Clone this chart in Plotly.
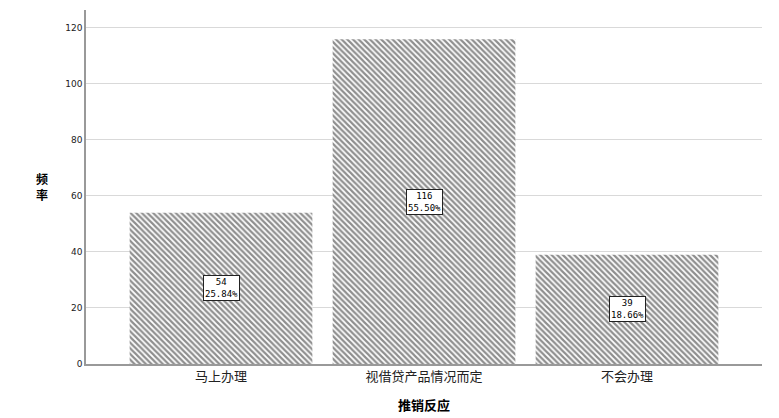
import plotly.graph_objects as go

# values
categories = ["马上办理", "视借贷产品情况而定", "不会办理"]
counts = [54, 116, 39]
percents = ["25.84%", "55.50%", "18.66%"]
y_ticks = [0, 20, 40, 60, 80, 100, 120]
y_title_chars = ["频", "率"]

cjk = "Noto Sans CJK SC"
mono = "DejaVu Sans Mono"

fig = go.Figure()

fig.add_trace(go.Bar(
    x=list(range(len(categories))),
    y=counts,
    width=0.9,
    marker=dict(
        color="white",
        line=dict(width=0),
        pattern=dict(shape="\\", size=4, solidity=0.55,
                     fgcolor="#1e1e1e", bgcolor="white"),
    ),
    hoverinfo="skip",
))

# boxed count / percent labels at bar mid-height
for i, (c, p) in enumerate(zip(counts, percents)):
    fig.add_annotation(
        x=i, y=c / 2, text=f"{c}<br>{p}", showarrow=False,
        font=dict(family=mono, size=9, color="black"),
        bgcolor="white", bordercolor="#222222", borderwidth=1, borderpad=1,
        align="center",
    )

# y title, characters stacked vertically
fig.add_annotation(
    xref="paper", yref="paper", x=-0.065, y=0.501,
    text="<b>" + "<br>".join(y_title_chars) + "</b>", showarrow=False,
    font=dict(family=cjk, size=12, color="black"),
    xanchor="center", yanchor="middle",
)

# page body adds an 8px offset, so the figure is a little smaller than the window
fig.update_layout(
    width=771, height=410,
    margin=dict(l=78, r=17, t=2, b=54),
    plot_bgcolor="white", paper_bgcolor="white",
    showlegend=False,
    font=dict(family=cjk, color="#222222"),
    xaxis=dict(
        range=[-0.665, 2.665],
        tickmode="array",
        tickvals=list(range(len(categories))),
        ticktext=categories,
        tickfont=dict(family=cjk, size=13, color="#222222"),
        showline=True, linecolor="#999999", linewidth=1.5,
        ticks="", showgrid=False, zeroline=False,
        title=dict(text="<b>推销反应</b>", font=dict(family=cjk, size=13, color="black"),
                   standoff=17),
    ),
    yaxis=dict(
        range=[0, 126.4],
        tickmode="array",
        tickvals=y_ticks,
        tickfont=dict(family="DejaVu Sans", size=9, color="#222222"),
        showline=True, linecolor="#999999", linewidth=1.5,
        showgrid=True, gridcolor="#d9d9d9", gridwidth=1,
        ticks="", ticklen=0, zeroline=False,
    ),
)

fig.write_html("out.html")
